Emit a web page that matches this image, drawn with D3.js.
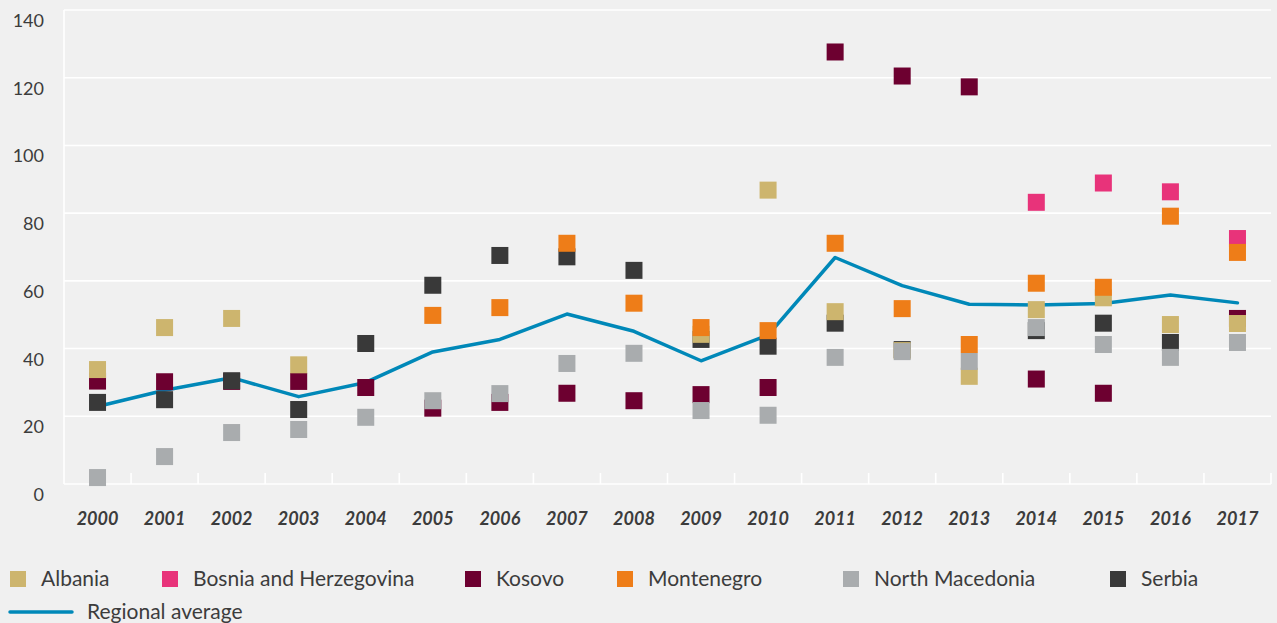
<!DOCTYPE html>
<html>
<head>
<meta charset="utf-8">
<script src="https://cdn.jsdelivr.net/npm/d3@7"></script>
<style>
  body { margin: 0; background: #f0f0f0; }
  text { font-family: Lato, "Open Sans", sans-serif; fill: #3c3c3c; }
</style>
</head>
<body>
<div id="chart"></div>
<script>
var years = ["2000","2001","2002","2003","2004","2005","2006","2007","2008","2009",
             "2010","2011","2012","2013","2014","2015","2016","2017"];
var yTicks = [0, 20, 40, 60, 80, 100, 120, 140];

var albania    = [33.8, 46.2, 48.9, 35.2, null, null, null, null, null, 44.2, 86.8, 50.9, 39.4, 31.8, 51.5, 55.0, 47.1, 47.4];
var bosnia     = [null, null, null, null, null, null, null, null, null, null, null, null, null, null, 83.2, 88.9, 86.3, 72.5];
var kosovo     = [30.4, 30.2, 30.3, 30.3, 28.5, 22.4, 24.1, 26.8, 24.6, 26.4, 28.5, 127.6, 120.5, 117.3, 31.0, 26.8, null, 48.9];
var montenegro = [null, null, null, null, null, 49.8, 52.1, 71.1, 53.4, 46.2, 45.3, 71.1, 51.8, 41.2, 59.3, 58.1, 79.1, 68.4];
var macedonia  = [1.9, 8.1, 15.2, 16.1, 19.7, 24.6, 26.7, 35.6, 38.6, 21.7, 20.3, 37.4, 39.1, 36.2, 46.2, 41.2, 37.4, 41.8];
var serbia     = [24.1, 24.9, 30.5, 22.0, 41.5, 58.7, 67.5, 67.1, 63.1, 42.7, 40.7, 47.5, 39.7, null, 45.3, 47.5, 41.8, null];
var regional   = [22.9, 27.7, 31.4, 25.8, 30.0, 39.0, 42.7, 50.2, 45.1, 36.4, 44.0, 66.9, 58.6, 53.1, 52.9, 53.3, 55.8, 53.5];

var series = [
  { name: "Albania", values: albania, color: "#cdb56e" },
  { name: "Bosnia and Herzegovina", values: bosnia, color: "#e8337a" },
  { name: "Kosovo", values: kosovo, color: "#6d0030" },
  { name: "Montenegro", values: montenegro, color: "#ee7d18" },
  { name: "North Macedonia", values: macedonia, color: "#a9acae" },
  { name: "Serbia", values: serbia, color: "#393939" }
];
// stacking order of the markers, bottom first
var drawOrder = ["Kosovo", "Serbia", "Albania", "North Macedonia", "Bosnia and Herzegovina", "Montenegro"];
var legendX = [10, 162, 465, 617, 843, 1110];

var width = 1277, height = 623;
var plotLeft = 64, plotRight = 1271, plotTop = 10, plotBottom = 484;

var svg = d3.select("#chart").append("svg")
    .attr("width", width)
    .attr("height", height);

svg.append("rect").attr("width", width).attr("height", height).attr("fill", "#f0f0f0");

var x = d3.scaleBand().domain(years).range([plotLeft, plotRight]);
var y = d3.scaleLinear().domain([0, 140]).range([plotBottom, plotTop]);

// gridlines
svg.selectAll(".grid").data(yTicks).enter().append("line")
    .attr("x1", plotLeft).attr("x2", plotRight)
    .attr("y1", function(d) { return y(d); }).attr("y2", function(d) { return y(d); })
    .attr("stroke", "#ffffff").attr("stroke-width", 1.6);

svg.append("line")
    .attr("x1", plotLeft).attr("x2", plotLeft).attr("y1", plotTop).attr("y2", plotBottom)
    .attr("stroke", "#ffffff").attr("stroke-width", 1.6);

// x tick marks on band edges
svg.selectAll(".xtick").data(years).enter().append("line")
    .attr("x1", function(d) { return x(d) + x.bandwidth(); })
    .attr("x2", function(d) { return x(d) + x.bandwidth(); })
    .attr("y1", plotBottom - 11).attr("y2", plotBottom)
    .attr("stroke", "#ffffff").attr("stroke-width", 1.6);

// y labels
svg.selectAll(".ylab").data(yTicks).enter().append("text")
    .attr("x", 44).attr("y", function(d) { return y(d) + 17; })
    .attr("text-anchor", "end")
    .style("font-size", "18px")
    .text(function(d) { return d; });

// x labels
svg.selectAll(".xlab").data(years).enter().append("text")
    .attr("x", function(d) { return x(d) + x.bandwidth() / 2; })
    .attr("y", 525)
    .attr("text-anchor", "middle")
    .style("font-size", "18px")
    .style("font-weight", "bold")
    .style("font-style", "italic")
    .text(function(d) { return d; });

// regional average line
var line = d3.line()
    .x(function(d, i) { return x(years[i]) + x.bandwidth() / 2; })
    .y(function(d) { return y(d); });

svg.append("path")
    .datum(regional)
    .attr("d", line)
    .attr("fill", "none")
    .attr("stroke", "#0088b8")
    .attr("stroke-width", 3.5)
    .attr("stroke-linecap", "round")
    .attr("stroke-linejoin", "round");

// markers
var size = 17;
drawOrder.forEach(function(name) {
  var s = series.find(function(d) { return d.name === name; });
  var pts = s.values.map(function(v, i) { return { year: years[i], v: v }; })
      .filter(function(d) { return d.v != null; });
  svg.append("g").selectAll("rect").data(pts).enter().append("rect")
      .attr("x", function(d) { return x(d.year) + x.bandwidth() / 2 - size / 2; })
      .attr("y", function(d) { return y(d.v) - size / 2; })
      .attr("width", size).attr("height", size)
      .attr("fill", s.color);
});

// legend
var leg = svg.selectAll(".leg").data(series).enter().append("g")
    .attr("transform", function(d, i) { return "translate(" + legendX[i] + ",571)"; });
leg.append("rect").attr("width", 16).attr("height", 16)
    .attr("fill", function(d) { return d.color; });
leg.append("text").attr("x", 31).attr("y", 15)
    .style("font-size", "21px")
    .text(function(d) { return d.name; });

svg.append("line")
    .attr("x1", 10).attr("x2", 72).attr("y1", 612).attr("y2", 612)
    .attr("stroke", "#0088b8").attr("stroke-width", 3.5).attr("stroke-linecap", "round");
svg.append("text").attr("x", 87).attr("y", 619)
    .style("font-size", "21px")
    .text("Regional average");
</script>
</body>
</html>
